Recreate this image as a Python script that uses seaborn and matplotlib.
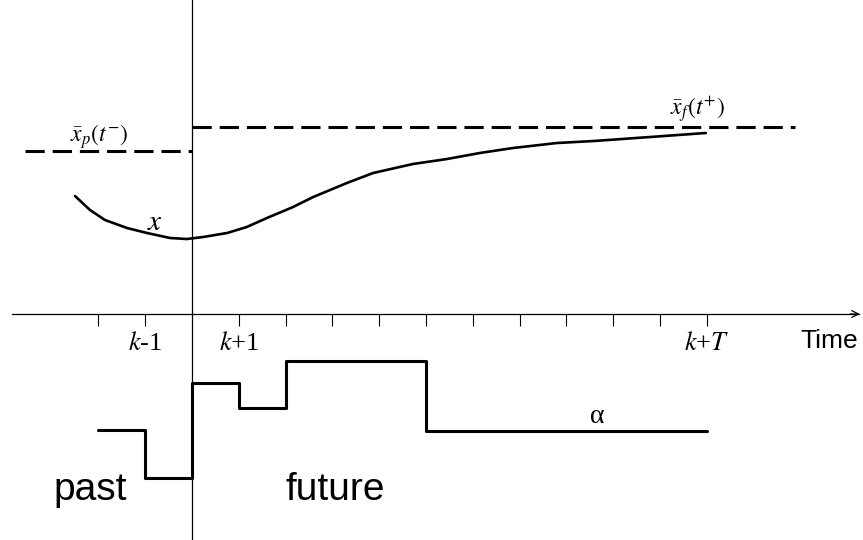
import pandas as pd
import seaborn as sns
import matplotlib.pyplot as plt

sns.set_style('white')
plt.rcParams['mathtext.fontset'] = 'stix'
plt.rcParams['font.family'] = ['Liberation Sans', 'DejaVu Sans']
plt.rcParams['text.color'] = 'black'
plt.rcParams['xtick.color'] = 'black'

# State trajectory x, time in sampling steps relative to k
state_t = [-2.50, -2.18, -1.86, -1.39, -0.96, -0.47, -0.11, 0.24, 0.75, 1.17,
           1.60, 2.16, 2.59, 3.31, 3.87, 4.72, 5.45, 6.15, 6.86, 7.80,
           8.59, 9.79, 10.98]
state_x = [1.18, 1.04, 0.94, 0.86, 0.81, 0.76, 0.75, 0.77, 0.81, 0.87,
           0.96, 1.07, 1.17, 1.31, 1.41, 1.50, 1.55, 1.61, 1.66, 1.71,
           1.73, 1.77, 1.81]

# Reference levels (past / future)
past_t = [-3.57, 0]
past_level = [1.63, 1.63]
future_t = [0, 12.88]
future_level = [1.87, 1.87]

# Input alpha, piecewise constant
input_t = [-2, -1, 0, 1, 2, 5, 11]
input_a = [-1.16, -1.64, -0.69, -0.94, -0.47, -1.17, -1.17]

tick_steps = [-2, -1, 1, 2, 3, 4, 5, 6, 7, 8, 9, 10, 11]
tick_labels = ['', '$k$-1', '$k$+1', '', '', '', '', '', '', '', '', '', '$k$+$T$']

fig = plt.figure(figsize=(8.63, 5.4), dpi=100)
ax = fig.add_axes([0, 0, 1, 1])

sns.lineplot(x=state_t, y=state_x, ax=ax, color='black', lw=1.9,
             estimator=None, sort=False)
sns.lineplot(x=past_t, y=past_level, ax=ax, color='black', lw=2.2,
             linestyle=(0, (6.3, 2.6)), estimator=None)
sns.lineplot(x=future_t, y=future_level, ax=ax, color='black', lw=2.2,
             linestyle=(0, (6.3, 2.6)), estimator=None)
sns.lineplot(x=input_t, y=input_a, ax=ax, color='black', lw=2.2,
             drawstyle='steps-post', estimator=None)

# present instant k
ax.axvline(0, color='black', lw=0.9)

ax.set_xlim(-4.103, 14.338)
ax.set_ylim(-2.26, 3.14)

# time axis
for s in ['left', 'right', 'top']:
    ax.spines[s].set_visible(False)
ax.spines['bottom'].set_position(('data', 0))
ax.spines['bottom'].set_bounds(-3.85, 14.25)
ax.spines['bottom'].set_linewidth(0.9)
ax.spines['bottom'].set_color('black')
ax.annotate('', xy=(14.33, 0), xytext=(14.0, 0),
            arrowprops=dict(arrowstyle='->', lw=0.9, color='black',
                            mutation_scale=12))
ax.set_xticks(tick_steps, tick_labels)
ax.tick_params(axis='x', direction='out', length=8.6, width=0.8,
               pad=4.3, labelsize=19, bottom=True)
for lab in ax.get_xticklabels():
    lab.set_family('Liberation Serif')
ax.set_yticks([])
ax.set_xlabel('')
ax.set_ylabel('')

ax.text(12.99, -0.34, 'Time', fontsize=19, ha='left', va='baseline')
ax.text(-2.97, -1.86, 'past', fontsize=28, ha='left', va='baseline')
ax.text(1.99, -1.86, 'future', fontsize=28, ha='left', va='baseline')
ax.text(8.65, -1.09, 'α', fontsize=20, ha='center', va='baseline',
        family='Liberation Serif')
ax.text(-0.79, 0.84, '$x$', fontsize=21, ha='center', va='baseline')
ax.text(-1.97, 1.72, r'$\bar{x}_p(t^{-})$', fontsize=17, ha='center', va='baseline')
ax.text(10.8, 1.99, r'$\bar{x}_f(t^{+})$', fontsize=17, ha='center', va='baseline')

fig.savefig('out.png', dpi=100)
